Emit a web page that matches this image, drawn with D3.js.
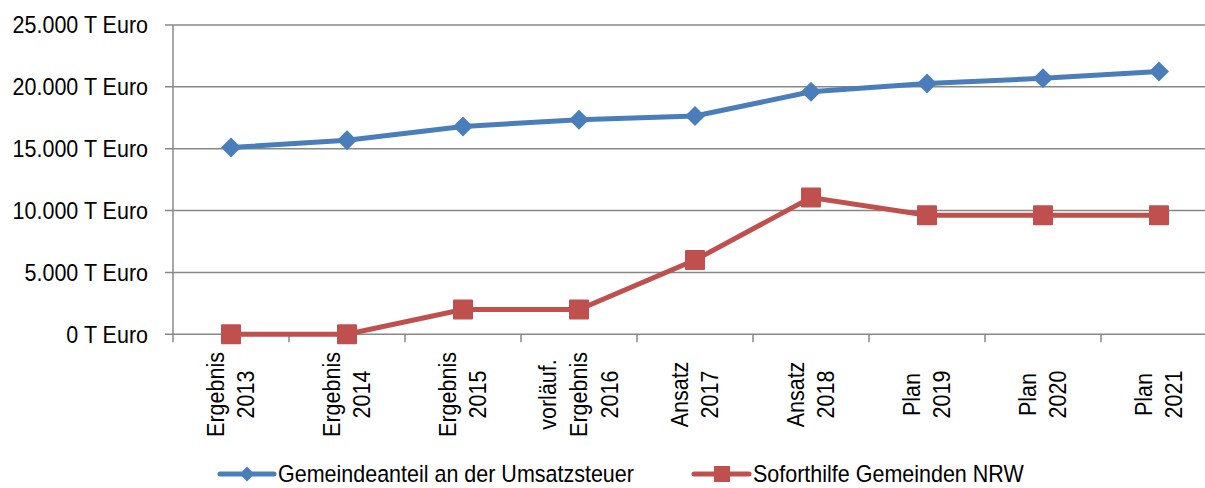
<!DOCTYPE html>
<html>
<head>
<meta charset="utf-8">
<script src="https://cdn.jsdelivr.net/npm/d3@7"></script>
<style>
  body { margin: 0; background: #fff; }
  text { font-family: "Liberation Sans", Arial, sans-serif; fill: #000; }
</style>
</head>
<body>
<div id="chart"></div>
<script>
// categories (two lines each)
const categories = [
    ["Ergebnis", "2013"],
    ["Ergebnis", "2014"],
    ["Ergebnis", "2015"],
    ["vorläuf.", "Ergebnis", "2016"],
    ["Ansatz", "2017"],
    ["Ansatz", "2018"],
    ["Plan", "2019"],
    ["Plan", "2020"],
    ["Plan", "2021"]
];
const umsatzsteuer = [15100, 15680, 16800, 17340, 17640, 19600, 20280, 20690, 21250];
const soforthilfe = [0, 0, 2000, 2000, 6000, 11050, 9620, 9620, 9620];
const yTicks = [0, 5000, 10000, 15000, 20000, 25000];
const seriesNames = ["Gemeindeanteil an der Umsatzsteuer", "Soforthilfe Gemeinden NRW"];

const width = 1205;
const height = 488;
const blue = "#4a7ebb";
const red = "#c0504d";
const grid = "#888";
const fontSize = 21.5;

const svg = d3.select("#chart").append("svg")
    .attr("width", width)
    .attr("height", height);

const keys = categories.map((c, i) => i);
const x = d3.scaleBand().domain(keys).range([173, 1217]);
const y = d3.scaleLinear().domain([0, 25000]).range([334.3, 25]);
const cx = i => x(i) + x.bandwidth() / 2;

// gridlines
svg.append("g").selectAll("line")
    .data(yTicks)
    .enter().append("line")
    .attr("x1", 165).attr("x2", 1217)
    .attr("y1", d => y(d)).attr("y2", d => y(d))
    .attr("stroke", grid).attr("stroke-width", 1.5);

// y axis line
svg.append("line")
    .attr("x1", 173).attr("x2", 173)
    .attr("y1", y(25000)).attr("y2", y(0) + 8)
    .attr("stroke", grid).attr("stroke-width", 1.5);

// x ticks
svg.append("g").selectAll("line")
    .data(keys.slice(1))
    .enter().append("line")
    .attr("x1", d => x(d)).attr("x2", d => x(d))
    .attr("y1", y(0)).attr("y2", y(0) + 8)
    .attr("stroke", grid).attr("stroke-width", 1.5);

// y labels
const fmt = d3.format(",");
svg.append("g").selectAll("text")
    .data(yTicks)
    .enter().append("text")
    .attr("transform", d => `translate(148,${y(d)}) scale(1,1.12)`)
    .attr("text-anchor", "end")
    .attr("dy", "0.35em")
    .style("font-size", fontSize + "px")
    .text(d => fmt(d).replace(/,/g, ".") + " T Euro");

// x labels (rotated, lines centred on each other)
const lineGap = 31;
const xl = svg.append("g").selectAll("text")
    .data(keys)
    .enter().append("text")
    .attr("transform", d => {
        const n = categories[d].length;
        const first = cx(d) - (n - 1) * lineGap / 2 + 8;
        return `translate(${first},394.5) rotate(-90) scale(1,1.15)`;
    })
    .attr("text-anchor", "middle")
    .style("font-size", fontSize + "px");
xl.selectAll("tspan")
    .data(d => categories[d])
    .enter().append("tspan")
    .attr("x", 0)
    .attr("y", (t, j) => j * lineGap / 1.15)
    .text(t => t);

// lines
const line = d3.line().x((d, i) => cx(i)).y(d => y(d));
svg.append("path").datum(umsatzsteuer)
    .attr("d", line).attr("fill", "none")
    .attr("stroke", blue).attr("stroke-width", 5);
svg.append("path").datum(soforthilfe)
    .attr("d", line).attr("fill", "none")
    .attr("stroke", red).attr("stroke-width", 5);

// markers
const diamond = d3.symbol().type(d3.symbolSquare).size(200);
svg.append("g").selectAll("path")
    .data(umsatzsteuer)
    .enter().append("path")
    .attr("d", diamond)
    .attr("transform", (d, i) => `translate(${cx(i)},${y(d)}) rotate(45)`)
    .attr("fill", blue);
svg.append("g").selectAll("rect")
    .data(soforthilfe)
    .enter().append("rect")
    .attr("x", (d, i) => cx(i) - 10).attr("y", d => y(d) - 10)
    .attr("width", 20).attr("height", 20).attr("rx", 1)
    .attr("fill", red);

// legend
const ly = 474;
const legend = svg.append("g");
legend.append("line")
    .attr("x1", 220).attr("x2", 274).attr("y1", ly).attr("y2", ly)
    .attr("stroke", blue).attr("stroke-width", 5).attr("stroke-linecap", "round");
legend.append("path")
    .attr("d", d3.symbol().type(d3.symbolSquare).size(110))
    .attr("transform", `translate(247,${ly}) rotate(45)`)
    .attr("fill", blue);
legend.append("text")
    .attr("transform", `translate(278,${ly}) scale(1,1.12)`)
    .attr("dy", "0.35em")
    .style("font-size", fontSize + "px")
    .text(seriesNames[0]);

legend.append("line")
    .attr("x1", 694).attr("x2", 749).attr("y1", ly).attr("y2", ly)
    .attr("stroke", red).attr("stroke-width", 5).attr("stroke-linecap", "round");
legend.append("rect")
    .attr("x", 714).attr("y", ly - 8).attr("width", 16).attr("height", 16)
    .attr("fill", red);
legend.append("text")
    .attr("transform", `translate(753,${ly}) scale(1,1.12)`)
    .attr("dy", "0.35em")
    .style("font-size", fontSize + "px")
    .text(seriesNames[1]);
</script>
</body>
</html>
